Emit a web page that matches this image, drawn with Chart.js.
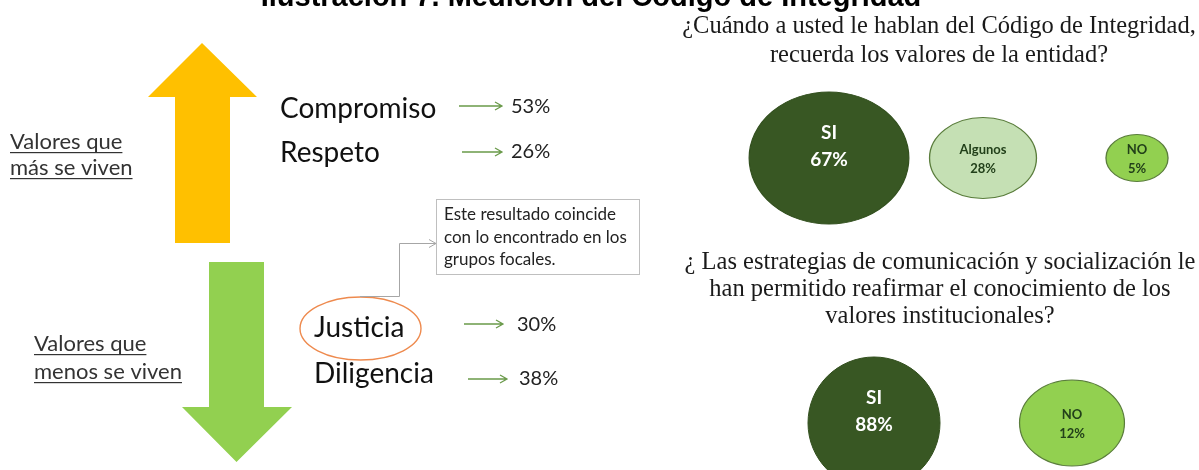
<!DOCTYPE html>
<html><head><meta charset="utf-8">
<script src="https://cdn.jsdelivr.net/npm/chart.js@4.4.1/dist/chart.umd.min.js"></script>
<style>html,body{margin:0;padding:0;background:#fff;overflow:hidden}canvas{display:block}</style>
</head><body>
<canvas id="c" width="1199" height="470" style="width:1199px;height:470px"></canvas>
<script>
// ---------- DATA ----------
const pageTitle = 'Ilustración 7. Medición del Código de Integridad';
const mostLabel = ['Valores que', 'más se viven'];
const leastLabel = ['Valores que', 'menos se viven'];
const mostValues = ['Compromiso', 'Respeto'];
const mostPct = [53, 26];
const leastValues = ['Justicia', 'Diligencia'];
const leastPct = [30, 38];
const noteLines = ['Este resultado coincide', 'con lo encontrado en los', 'grupos focales.'];
const q1Question = ['¿Cuándo a usted le hablan del Código de Integridad,', 'recuerda los valores de la entidad?'];
const q1Categories = ['SI', 'Algunos', 'NO'];
const q1Values = [67, 28, 5];
const q2Question = ['¿ Las estrategias de comunicación y socialización le', 'han permitido reafirmar el conocimiento de los', 'valores institucionales?'];
const q2Categories = ['SI', 'NO'];
const q2Values = [88, 12];

// ---------- STYLE / LAYOUT ----------
const W = 1199, H = 470;
const LAYOUT = { q1: { x0: 829, dx: 154 }, q2: { x0: 874, dx: 198 }, y0: 158, dy: 265 };
const BUBBLE_STYLE = {
  q1: { radius: [66, 40.5, 23.5], aspect: [1.21, 1.32, 1.32], fill: ['#385723', '#C5E0B4', '#92D050'],
        font: [19, 13, 13], color: ['#ffffff', '#22401a', '#22401a'] },
  q2: { radius: [66, 43], aspect: [1.0, 1.22], fill: ['#385723', '#92D050'],
        font: [19, 13], color: ['#ffffff', '#22401a'] }
};

function makeSets(cats, vals, qIndex, axis, st) {
  return cats.map((c, i) => ({
    label: c,
    data: [{ x: i, y: qIndex, v: vals[i] }],
    xAxisID: axis, yAxisID: 'y',
    radius: st.radius[i],
    backgroundColor: st.fill[i],
    borderColor: i === 0 ? '#33501f' : '#5a7d3c',
    borderWidth: 1,
    clip: false,
    _aspect: st.aspect[i], _font: st.font[i], _color: st.color[i]
  }));
}

function txt(ctx, s, x, y, font, color, align, underline) {
  ctx.font = font; ctx.fillStyle = color; ctx.textAlign = align || 'left'; ctx.textBaseline = 'alphabetic';
  ctx.fillText(s, x, y);
  if (underline) {
    const w = ctx.measureText(s).width;
    ctx.fillRect(x, y + 3, w, 1.2);
  }
}
function smallArrow(ctx, x1, x2, y) {
  ctx.save(); ctx.strokeStyle = '#6a9a4a'; ctx.lineWidth = 1.3;
  ctx.beginPath(); ctx.moveTo(x1, y); ctx.lineTo(x2, y);
  ctx.moveTo(x2 - 7, y - 4); ctx.lineTo(x2, y); ctx.lineTo(x2 - 7, y + 4); ctx.stroke();
  ctx.restore();
}
function poly(ctx, pts, color) {
  ctx.beginPath(); ctx.moveTo(pts[0][0], pts[0][1]);
  for (let i = 1; i < pts.length; i++) ctx.lineTo(pts[i][0], pts[i][1]);
  ctx.closePath(); ctx.fillStyle = color; ctx.fill();
}

const decorPlugin = {
  id: 'decor',
  beforeDatasetsDraw(chart) {
    const ctx = chart.ctx; ctx.save();
    // title (cut at top)
    txt(ctx, pageTitle, 591, 6, 'bold 29px "Liberation Sans"', '#000', 'center');
    // big arrows
    poly(ctx, [[175,243],[175,97],[148,97],[202,43],[257,97],[230,97],[230,243]], '#FFC000');
    poly(ctx, [[209,262],[264,262],[264,407],[292,407],[236.5,462],[182,407],[209,407]], '#92D050');
    // side labels
    const sideFont = '22px Lato';
    txt(ctx, mostLabel[0], 10, 149, sideFont, '#333', 'left', true);
    txt(ctx, mostLabel[1], 10, 175, sideFont, '#333', 'left', true);
    txt(ctx, leastLabel[0], 34, 351, sideFont, '#333', 'left', true);
    txt(ctx, leastLabel[1], 34, 379, sideFont, '#333', 'left', true);
    // values
    const bigFont = '28px Lato', pctFont = '20px Lato';
    txt(ctx, mostValues[0], 280, 118, bigFont, '#111');
    txt(ctx, mostValues[1], 280, 162, bigFont, '#111');
    txt(ctx, leastValues[0], 314, 337, bigFont, '#111');
    txt(ctx, leastValues[1], 314, 383, bigFont, '#111');
    smallArrow(ctx, 459, 502, 106); smallArrow(ctx, 462, 502, 152);
    smallArrow(ctx, 464, 503, 324); smallArrow(ctx, 468, 507, 379);
    txt(ctx, mostPct[0] + '%', 511, 113, pctFont, '#222');
    txt(ctx, mostPct[1] + '%', 511, 158, pctFont, '#222');
    txt(ctx, leastPct[0] + '%', 517, 331, pctFont, '#222');
    txt(ctx, leastPct[1] + '%', 519, 385, pctFont, '#222');
    // orange ellipse
    ctx.beginPath(); ctx.ellipse(360.5, 328.5, 60.5, 31.5, 0, 0, Math.PI * 2);
    ctx.strokeStyle = '#EE8A4E'; ctx.lineWidth = 1.4; ctx.stroke();
    // connector
    ctx.beginPath(); ctx.strokeStyle = '#A6A6A6'; ctx.lineWidth = 1;
    ctx.moveTo(360, 296.5); ctx.lineTo(399.5, 296.5); ctx.lineTo(399.5, 243.5); ctx.lineTo(436, 243.5);
    ctx.moveTo(429, 239.5); ctx.lineTo(436, 243.5); ctx.lineTo(429, 247.5); ctx.stroke();
    // note box
    ctx.fillStyle = '#fff'; ctx.fillRect(436, 199, 203, 75);
    ctx.strokeStyle = '#BFBFBF'; ctx.strokeRect(436.5, 199.5, 203, 75);
    const noteFont = '17px Lato';
    noteLines.forEach((l, i) => txt(ctx, l, 444, 220 + i * 22.5, noteFont, '#222'));
    // question titles
    const serif = '24.5px "Liberation Serif"';
    q1Question.forEach((l, i) => txt(ctx, l, 939, 33 + i * 29, serif, '#1a1a1a', 'center'));
    q2Question.forEach((l, i) => txt(ctx, l, 940, 269 + i * 27, serif, '#1a1a1a', 'center'));
    ctx.restore();
  },
  beforeDatasetDraw(chart, args) {
    const ds = chart.data.datasets[args.index];
    const el = args.meta.data[0];
    const ctx = chart.ctx; ctx.save();
    ctx.translate(el.x, el.y); ctx.scale(ds._aspect, 1); ctx.translate(-el.x, -el.y);
  },
  afterDatasetDraw(chart) { chart.ctx.restore(); },
  afterDatasetsDraw(chart) {
    const ctx = chart.ctx; ctx.save();
    chart.data.datasets.forEach((ds, i) => {
      const el = chart.getDatasetMeta(i).data[0];
      const big = ds._font > 16;
      const f = 'bold ' + ds._font + 'px Lato';
      ctx.font = f; ctx.fillStyle = ds._color; ctx.textAlign = 'center'; ctx.textBaseline = 'middle';
      const y1 = big ? el.y - 25 : el.y - 8, y2 = big ? el.y + 2 : el.y + 11;
      ctx.fillText(ds.label, el.x, y1);
      ctx.fillText(ds.data[0].v + '%', el.x, y2);
    });
    ctx.restore();
  }
};

function axisRange(x0, dx, size) { return { min: -x0 / dx, max: (size - x0) / dx }; }

Promise.all([
  document.fonts.load('19px Lato'), document.fonts.load('bold 20px Lato'),
  document.fonts.load('bold 28px "Liberation Sans"'), document.fonts.load('23px "Liberation Serif"')
]).catch(() => {}).then(() => {
  const r1 = axisRange(LAYOUT.q1.x0, LAYOUT.q1.dx, W);
  const r2 = axisRange(LAYOUT.q2.x0, LAYOUT.q2.dx, W);
  const ry = axisRange(LAYOUT.y0, LAYOUT.dy, H);
  new Chart(document.getElementById('c'), {
    type: 'bubble',
    data: {
      datasets: [
        ...makeSets(q1Categories, q1Values, 0, 'x1', BUBBLE_STYLE.q1),
        ...makeSets(q2Categories, q2Values, 1, 'x2', BUBBLE_STYLE.q2)
      ]
    },
    options: {
      responsive: false, animation: false, devicePixelRatio: 1,
      layout: { padding: 0, autoPadding: false },
      plugins: { legend: { display: false }, tooltip: { enabled: false } },
      scales: {
        x1: { type: 'linear', display: false, min: r1.min, max: r1.max },
        x2: { type: 'linear', display: false, min: r2.min, max: r2.max },
        y: { type: 'linear', display: false, reverse: true, min: ry.min, max: ry.max }
      }
    },
    plugins: [decorPlugin]
  });
});
</script>
</body></html>
